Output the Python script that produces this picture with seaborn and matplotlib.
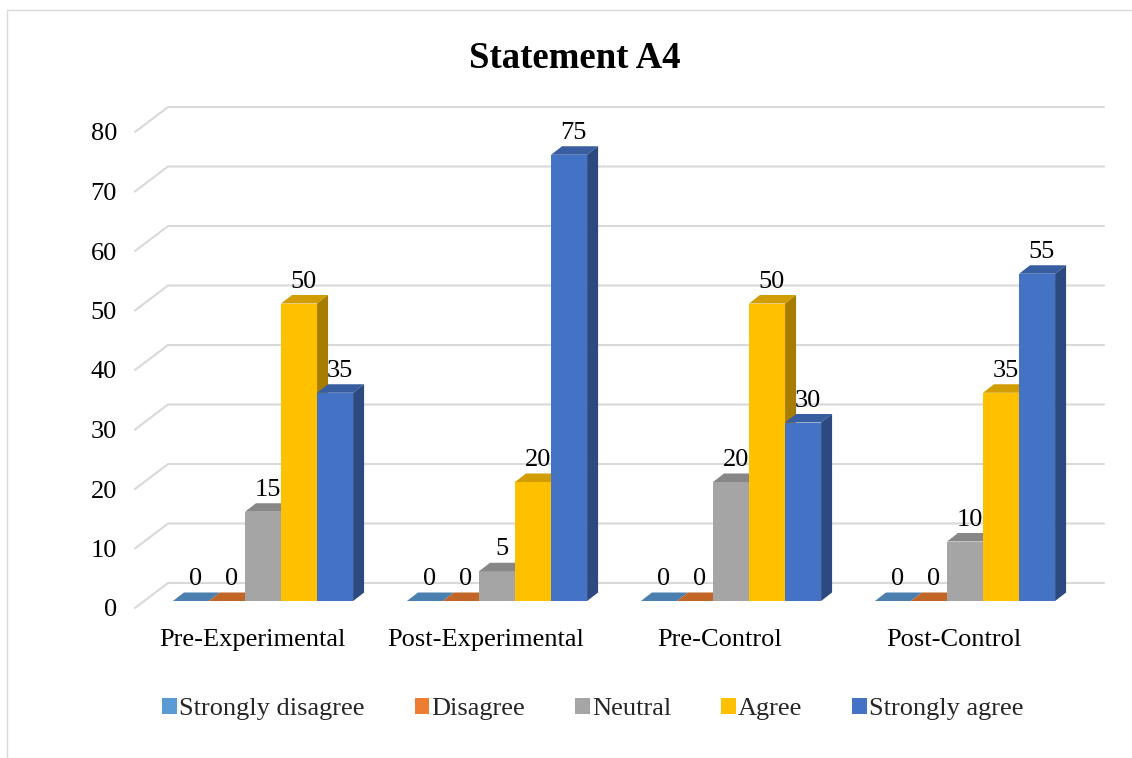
import numpy as np
import pandas as pd
import matplotlib
matplotlib.use('Agg')
import matplotlib.pyplot as plt
import matplotlib.colors as mcolors
from matplotlib.patches import Polygon, Rectangle
from matplotlib.lines import Line2D
from matplotlib.transforms import IdentityTransform, ScaledTranslation
import seaborn as sns

groups = ['Pre-Experimental', 'Post-Experimental', 'Pre-Control', 'Post-Control']
responses = ['Strongly disagree', 'Disagree', 'Neutral', 'Agree', 'Strongly agree']
strongly_disagree = [0, 0, 0, 0]
disagree = [0, 0, 0, 0]
neutral = [15, 5, 20, 10]
agree = [50, 20, 50, 35]
strongly_agree = [35, 75, 30, 55]
colors = ['#5B9BD5', '#ED7D31', '#A5A5A5', '#FFC000', '#4472C4']
y_ticks = list(range(0, 90, 10))

series = [strongly_disagree, disagree, neutral, agree, strongly_agree]
rows = []
for resp, vals in zip(responses, series):
    for g, v in zip(groups, vals):
        rows.append({'group': g, 'response': resp, 'value': v})
df = pd.DataFrame(rows)

sns.set_theme(style='white')
plt.rcParams['font.family'] = ['Liberation Serif', 'DejaVu Serif']

W, H = 1132, 758
fig = plt.figure(figsize=(W / 100, H / 100), dpi=100, facecolor='white')
# axes = plane where the bar fronts stand
ax = fig.add_axes([146 / W, (H - 601) / H, 936 / W, 476 / H])
sns.barplot(data=df, x='group', y='value', hue='response', order=groups,
            hue_order=responses, palette=colors, width=0.77, saturation=1,
            linewidth=0, edgecolor='none', ax=ax)
ax.set_xlim(-0.5, 3.5)
ax.set_ylim(0, 80)

old_leg = ax.get_legend()
leg_handles = [Rectangle((0, 0), 1, 1, facecolor=h.get_facecolor(), edgecolor='none')
               for h in old_leg.legend_handles]
leg_labels = [t.get_text() for t in old_leg.get_texts()]
old_leg.remove()

ax.set_facecolor('none')
for s in ax.spines.values():
    s.set_visible(False)
ax.set_xticks([])
ax.set_yticks([])
ax.set_xlabel('')
ax.set_ylabel('')

px = fig.dpi_scale_trans
DX, DY = 11, 8.5          # bar depth in pixels
FX, FY = -11, -7          # front plane offset
BX, BY = 22, 18           # back wall offset


def shade(c, f):
    r, g, b, a = mcolors.to_rgba(c)
    return (r * f, g * f, b * f, 1)


# back-wall gridlines with the slanted side-wall part
for v in y_ticks:
    xl, yv = ax.transData.transform((-0.5, v))
    xr, _ = ax.transData.transform((3.5, v))
    ln = Line2D([xl + FX, xl + BX, xr + BX], [yv + FY, yv + BY, yv + BY],
                transform=IdentityTransform(), color='#d9d9d9', lw=1.5,
                zorder=0.5, clip_on=False)
    ax.add_artist(ln)
    ax.text(-0.5, v, str(v), transform=ax.transData + ScaledTranslation(-0.29, -0.155, px),
            ha='right', va='baseline', fontsize=19, color='black')

# 3D faces and labels
for k, cont in enumerate(ax.containers):
    for bar in cont:
        z = 2 + k * 0.1
        bar.set_zorder(z)
        h = bar.get_height()
        x0, y0 = ax.transData.transform((bar.get_x(), 0))
        x1, y1 = ax.transData.transform((bar.get_x() + bar.get_width(), h))
        fc = bar.get_facecolor()
        top = Polygon([(x0, y1), (x1, y1), (x1 + DX, y1 + DY), (x0 + DX, y1 + DY)],
                      closed=True, transform=IdentityTransform(), facecolor=shade(fc, 0.82),
                      edgecolor='none', zorder=z + 0.05, clip_on=False)
        side = Polygon([(x1, y0), (x1, y1), (x1 + DX, y1 + DY), (x1 + DX, y0 + DY)],
                       closed=True, transform=IdentityTransform(), facecolor=shade(fc, 0.65),
                       edgecolor='none', zorder=z + 0.05, clip_on=False)
        ax.add_artist(top)
        ax.add_artist(side)
        ax.annotate(f'{int(h)}', xy=(bar.get_x() + bar.get_width() / 2, h),
                    xytext=(3.5, 11.5), textcoords='offset points', ha='center',
                    va='baseline', fontsize=19, color='black', zorder=5)

for i, g in enumerate(groups):
    ax.text(i, 0, g, transform=ax.transData + ScaledTranslation(-0.11, -0.45, px),
            ha='center', va='baseline', fontsize=19, color='black')

fig.legend(leg_handles, leg_labels, loc='center', bbox_to_anchor=(593 / W, 1 - 709 / H),
           ncol=5, frameon=False, fontsize=19, handlelength=0.55, handleheight=0.55,
           handletextpad=0.08, columnspacing=1.9)

fig.text(575 / W, 1 - 68 / H, 'Statement A4', ha='center', va='baseline',
         fontsize=26.5, fontweight='bold', color='black')

fig.add_artist(Rectangle((7 / W, -0.05), 1.1, (H - 10) / H + 0.05, transform=fig.transFigure,
                         fill=False, edgecolor='#d9d9d9', lw=1))

fig.savefig('out.png', dpi=100)
plt.close()
